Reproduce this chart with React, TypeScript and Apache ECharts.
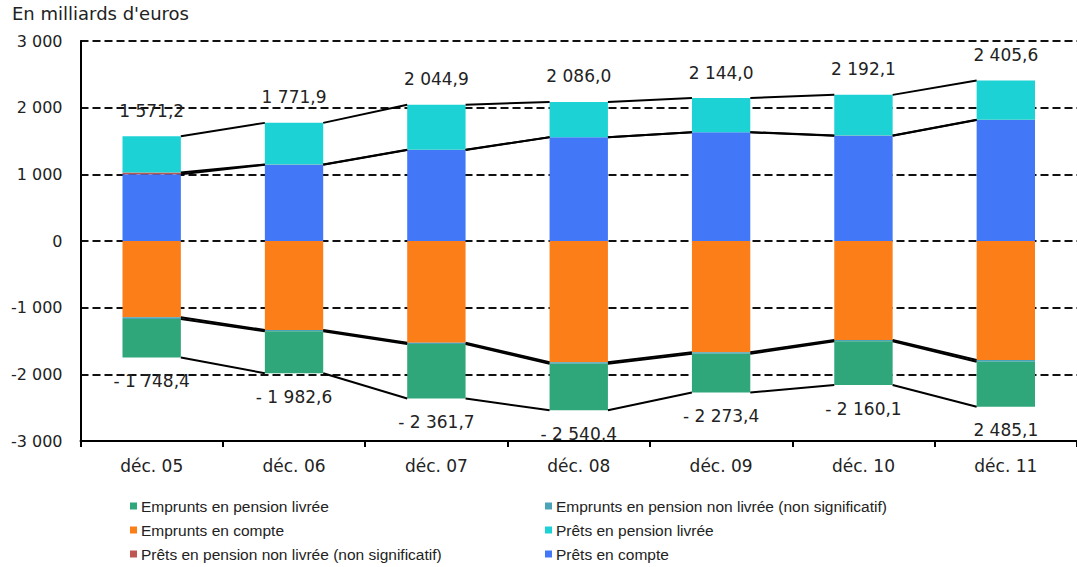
import React, { useEffect, useRef } from "react";
import * as echarts from "echarts";

const categories = ["déc. 05", "déc. 06", "déc. 07", "déc. 08", "déc. 09", "déc. 10", "déc. 11"];

const pretsCompte = [1000, 1145, 1365, 1555, 1630, 1580, 1815];
const pretsNonLivree = [28, 3, 3, 3, 3, 3, 3];
const pretsLivree = [543, 624, 677, 528, 511, 609, 588];

const empruntsCompte = [-1145, -1335, -1525, -1820, -1670, -1485, -1785];
const empruntsNonLivree = [-25, -20, -20, -20, -20, -20, -25];
const empruntsLivree = [-578, -628, -817, -700, -583, -655, -675];

const posLabels = ["1 571,2", "1 771,9", "2 044,9", "2 086,0", "2 144,0", "2 192,1", "2 405,6"];
const negLabels = ["- 1 748,4", "- 1 982,6", "- 2 361,7", "- 2 540,4", "- 2 273,4", "- 2 160,1", "2 485,1"];

const yTicks = [-3000, -2000, -1000, 0, 1000, 2000, 3000];

const C = {
  empLivree: "#2FA77A",
  empNonLivree: "#4AA3B6",
  empCompte: "#FC7E19",
  preLivree: "#1DD2D4",
  preNonLivree: "#BE5652",
  preCompte: "#4278F8",
};

const FONT = "'Liberation Sans', Arial, sans-serif";
const WIDE = "'DejaVu Sans', sans-serif";

function cumulate(arrs: number[][]): number[][] {
  const out: number[][] = [];
  let acc = arrs[0].map(() => 0);
  for (const a of arrs) {
    acc = acc.map((v, i) => v + a[i]);
    out.push(acc.slice());
  }
  return out;
}

export default function App() {
  const ref = useRef<HTMLDivElement>(null);
  useEffect(() => {
    if (!ref.current) return;
    const chart = echarts.init(ref.current, undefined, { renderer: "svg" });
    const levels = [
      ...cumulate([pretsCompte, pretsNonLivree, pretsLivree]),
      ...cumulate([empruntsCompte, empruntsNonLivree, empruntsLivree]),
    ];
    const gapIdx = categories.slice(0, -1).map((_, i) => [i]);
    const barW = 0.41;
    const fmt = (v: number) => {
      const s = Math.abs(v).toString().replace(/\B(?=(\d{3})+(?!\d))/g, " ");
      return (v < 0 ? "-" : "") + s;
    };
    const bar = (name: string, data: number[], color: string, extra: any = {}) => ({
      name,
      type: "bar",
      stack: "all",
      data,
      barWidth: barW * 100 + "%",
      itemStyle: { color },
      z: 2,
      ...extra,
    });
    const legendText = { fontSize: 15.5, color: "#222", lineHeight: 16, fontFamily: FONT, padding: [0, 0, 0, -1] };
    chart.setOption({
      animation: false,
      textStyle: { fontFamily: FONT },
      graphic: [
        {
          type: "text",
          left: 12,
          top: 4,
          style: { text: "En milliards d'euros", fontSize: 18, fill: "#222", fontFamily: WIDE },
        },
      ],
      grid: { left: 80.5, top: 41, width: 1002, bottom: 126, containLabel: false },
      legend: [
        {
          orient: "vertical",
          left: 130,
          top: 498,
          padding: 0,
          itemWidth: 7,
          itemHeight: 7,
          itemGap: 8,
          icon: "rect",
          textStyle: legendText,
          data: ["Emprunts en pension livrée", "Emprunts en compte", "Prêts en pension non livrée (non significatif)"],
        },
        {
          orient: "vertical",
          left: 545,
          top: 498,
          padding: 0,
          itemWidth: 7,
          itemHeight: 7,
          itemGap: 8,
          icon: "rect",
          textStyle: legendText,
          data: ["Emprunts en pension non livrée (non significatif)", "Prêts en pension livrée", "Prêts en compte"],
        },
      ],
      xAxis: {
        type: "category",
        data: categories,
        axisLine: { onZero: false, lineStyle: { color: "#000", width: 2 } },
        axisTick: { show: true, length: 6, lineStyle: { color: "#000", width: 2 } },
        axisLabel: { fontSize: 17, color: "#222", margin: 16, fontFamily: WIDE },
      },
      yAxis: {
        type: "value",
        min: -3000,
        max: 3000,
        interval: 1000,
        axisLine: { show: true, lineStyle: { color: "#000", width: 2 } },
        axisTick: { show: false },
        axisLabel: {
          fontSize: 16,
          color: "#222",
          margin: 18,
          fontFamily: WIDE,
          formatter: (v: number) => (yTicks.includes(v) ? fmt(v) : ""),
        },
        splitLine: { show: true, lineStyle: { color: "#111", width: 2, type: [8, 4] } },
      },
      series: [
        bar("Prêts en compte", pretsCompte, C.preCompte),
        bar("Prêts en pension non livrée (non significatif)", pretsNonLivree, C.preNonLivree),
        bar("Prêts en pension livrée", pretsLivree, C.preLivree, {
          label: {
            show: true,
            position: "top",
            distance: 17,
            fontSize: 17,
            color: "#222",
            fontFamily: WIDE,
            formatter: (p: any) => posLabels[p.dataIndex],
          },
        }),
        bar("Emprunts en compte", empruntsCompte, C.empCompte),
        bar("Emprunts en pension non livrée (non significatif)", empruntsNonLivree, C.empNonLivree),
        bar("Emprunts en pension livrée", empruntsLivree, C.empLivree, {
          label: {
            show: true,
            position: "bottom",
            distance: 15,
            fontSize: 17,
            color: "#222",
            fontFamily: WIDE,
            formatter: (p: any) => negLabels[p.dataIndex],
          },
        }),
        {
          type: "custom",
          data: gapIdx,
          z: 5,
          silent: true,
          renderItem: (params: any, api: any) => {
            const i = api.value(0);
            const bw = api.size([1, 0])[0] * barW;
            return {
              type: "group",
              children: levels.map((lv) => {
                const p1 = api.coord([i, lv[i]]);
                const p2 = api.coord([i + 1, lv[i + 1]]);
                return {
                  type: "line",
                  shape: { x1: p1[0] + bw / 2, y1: p1[1], x2: p2[0] - bw / 2, y2: p2[1] },
                  style: { stroke: "#000", lineWidth: 2 },
                };
              }),
            };
          },
        },
      ],
    });
    return () => chart.dispose();
  }, []);
  return <div ref={ref} style={{ width: 1077, height: 567, position: "absolute", left: 0, top: 0, background: "#fff" }} />;
}
